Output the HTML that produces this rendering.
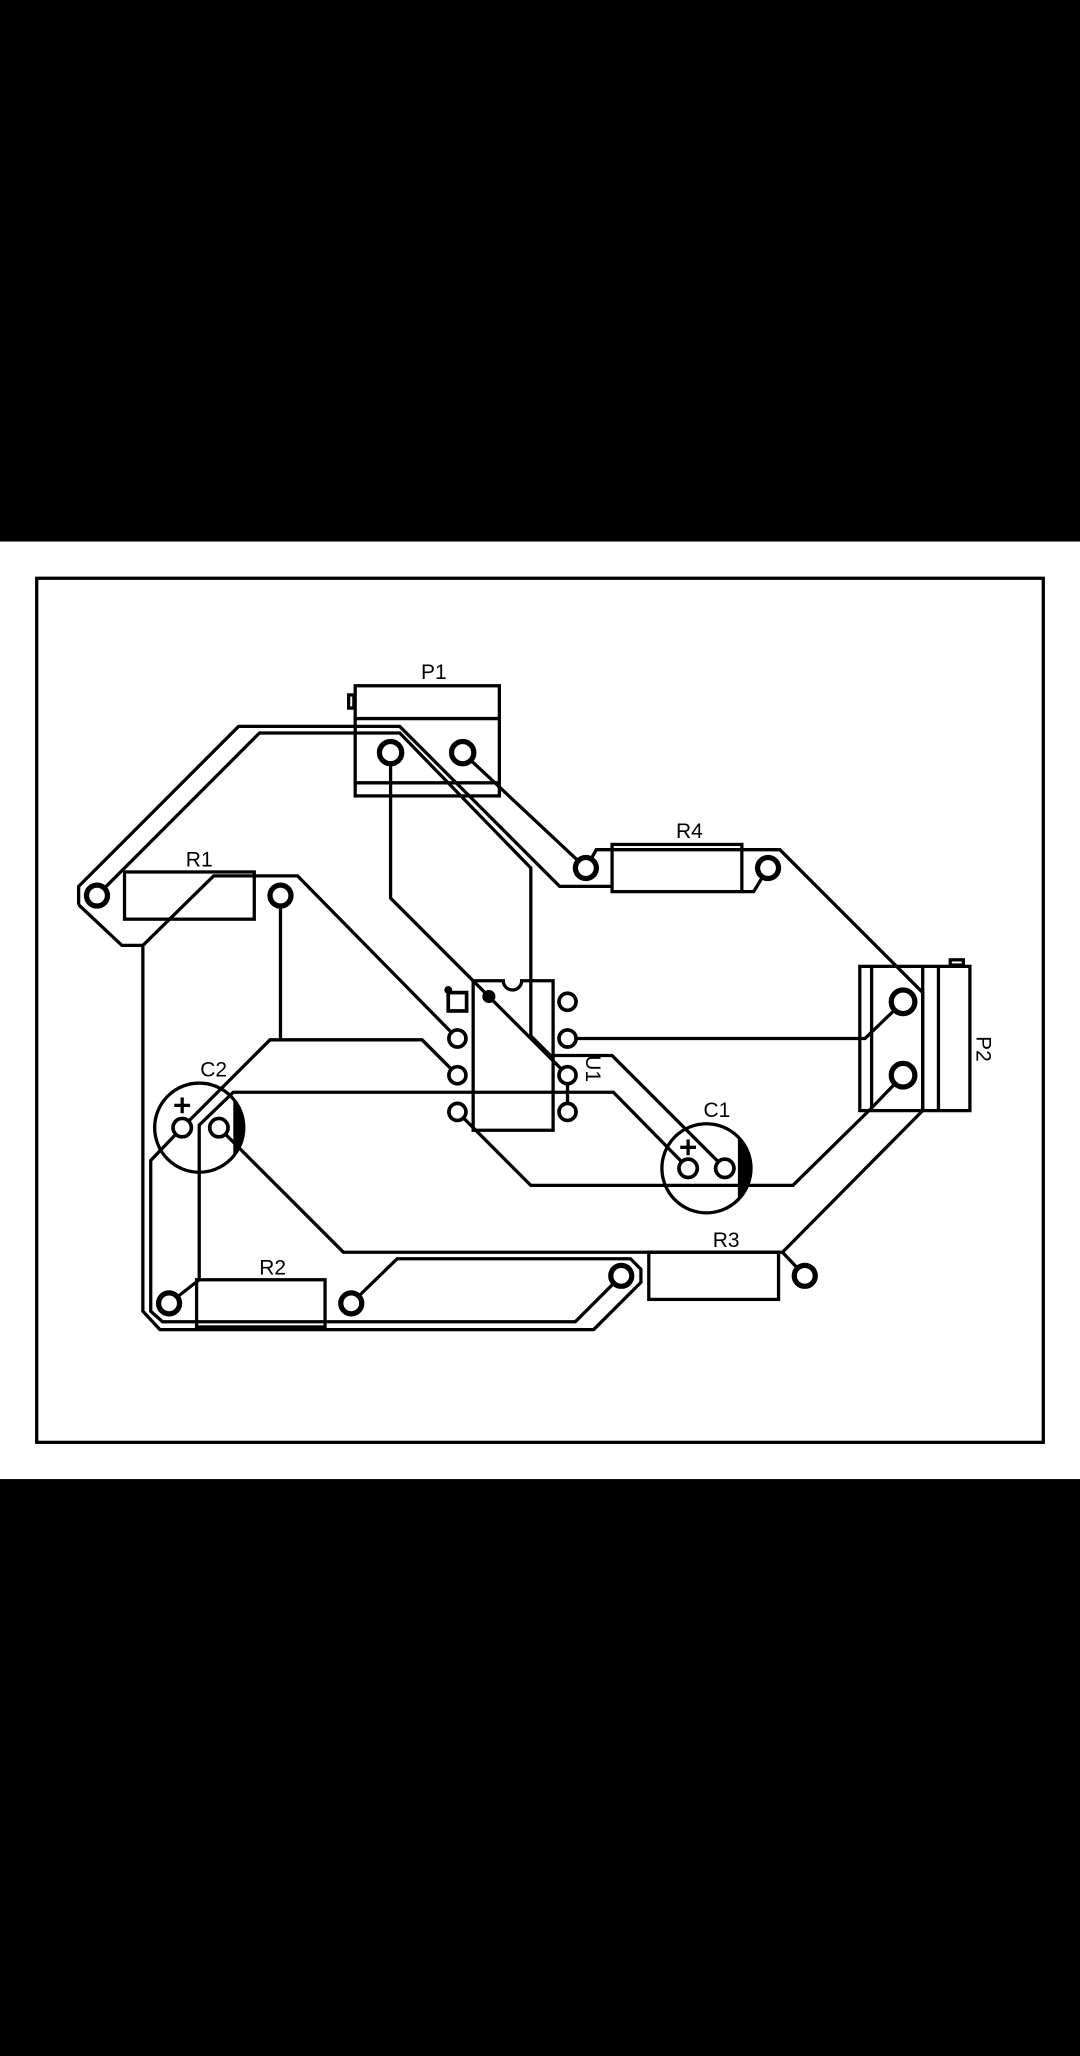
<!DOCTYPE html>
<html><head><meta charset="utf-8"><style>
html,body{margin:0;padding:0;background:#000;}
svg{display:block;}
text{font-family:"Liberation Sans",sans-serif;font-size:16px;fill:#000;}
</style></head><body>
<svg width="1080" height="2056" viewBox="0 0 824 1568" preserveAspectRatio="none">
<rect x="0" y="0" width="824" height="1568" fill="#000"/>
<rect x="0" y="413" width="824" height="715" fill="#fff"/>
<rect x="28" y="441" width="768" height="659" fill="none" stroke="#000" stroke-width="2.5"/>
<g fill="none" stroke="#000" stroke-width="2.5" stroke-linejoin="miter">
<polyline points="60,690 60,676 182,554 305,554 427,676 467,676"/>
<polyline points="60,690 93,721 109,721 109,1000 122,1014 453,1014 489,978 489,968 481,960 303,960 268,994"/>
<polyline points="139,860 115,885 115,1000 124,1008 439,1008 474,973"/>
<polyline points="74,683 198,559 305,559 405,662 405,790 420,805 467,805 553,891"/>
<polyline points="298,574 298,685 373,760 433,820"/>
<polyline points="109,721 163,668 227,668 349,792"/>
<polyline points="214,683 214,793"/>
<polyline points="139,860 206,793 322,793 349,820"/>
<polyline points="525,891 468,833 178,833 152,858 152,976 129,994"/>
<polyline points="167,860 262,955 597,955 614,973"/>
<polyline points="597,955 704,847 704,757 595,648 455,648 447,662"/>
<polyline points="353,574 447,662"/>
<polyline points="566,680 575,680 586,662"/>
<polyline points="349,848 405,904 605,904 665,845 689,820"/>
<polyline points="433,792 660,792 689,764"/>
<polyline points="433,820 433,848"/>
</g>
<g fill="none" stroke="#000" stroke-width="2.5">
<rect x="271" y="523" width="110" height="84"/>
<line x1="271" y1="548" x2="381" y2="548"/><line x1="271" y1="597" x2="381" y2="597"/>
<rect x="266" y="530" width="4" height="10"/>
<rect x="467" y="644" width="99" height="36"/>
<rect x="95" y="665" width="99" height="36"/>
<rect x="495" y="955" width="99" height="36"/>
<rect x="150" y="976" width="98" height="36"/>
<path d="M361,748 H384 A7,7 0 0 0 398,748 H422 V862 H361 Z"/>
<rect x="656" y="737" width="84" height="110"/>
<line x1="665" y1="737" x2="665" y2="847"/><line x1="704" y1="737" x2="704" y2="847"/><line x1="716" y1="737" x2="716" y2="847"/>
<rect x="725" y="732" width="10" height="4"/>
<circle cx="152" cy="860" r="34"/>
<circle cx="539" cy="891" r="34"/>
<path d="M133,843 H145 M139,837 V849 M519,875 H531 M525,869 V881"/>
</g>
<path d="M178,838 A34,34 0 0 1 178,882 Z" fill="#000"/>
<path d="M563,867 A34,34 0 0 1 563,915 Z" fill="#000"/>
<circle cx="373" cy="760" r="5" fill="#000"/>
<circle cx="342" cy="755" r="3" fill="#000"/>
<g fill="#fff" stroke="#000" stroke-width="4">
<circle cx="298" cy="574" r="8.5"/><circle cx="353" cy="574" r="8.5"/>
<circle cx="447" cy="662" r="8"/><circle cx="586" cy="662" r="8"/>
<circle cx="74" cy="683" r="8"/><circle cx="214" cy="683" r="8"/>
<circle cx="689" cy="764" r="9"/><circle cx="689" cy="820" r="9"/>
<circle cx="474" cy="973" r="8"/><circle cx="614" cy="973" r="8"/>
<circle cx="129" cy="994" r="8"/><circle cx="268" cy="994" r="8"/>
</g>
<g fill="#fff" stroke="#000" stroke-width="2.8">
<rect x="342" y="757" width="14" height="14"/>
<circle cx="349" cy="792" r="6.5"/><circle cx="349" cy="820" r="6.5"/><circle cx="349" cy="848" r="6.5"/>
<circle cx="433" cy="764" r="6.5"/><circle cx="433" cy="792" r="6.5"/><circle cx="433" cy="820" r="6.5"/><circle cx="433" cy="848" r="6.5"/>
<circle cx="139" cy="860" r="7"/><circle cx="167" cy="860" r="7"/>
<circle cx="525" cy="891" r="7"/><circle cx="553" cy="891" r="7"/>
</g>
<text x="331" y="518" text-anchor="middle">P1</text>
<text x="526" y="639" text-anchor="middle">R4</text>
<text x="152" y="661" text-anchor="middle">R1</text>
<text x="163" y="821" text-anchor="middle">C2</text>
<text x="547" y="852" text-anchor="middle">C1</text>
<text x="554" y="951" text-anchor="middle">R3</text>
<text x="208" y="972" text-anchor="middle">R2</text>
<text transform="translate(447,815) rotate(90)" text-anchor="middle">U1</text>
<text transform="translate(745,800) rotate(90)" text-anchor="middle">P2</text>
</svg>
</body></html>
